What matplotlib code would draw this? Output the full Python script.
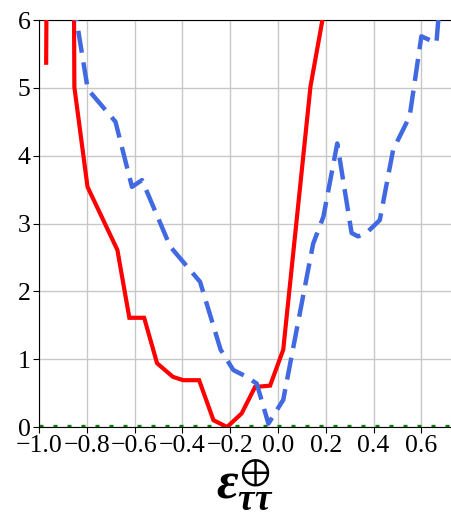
import matplotlib.pyplot as plt

plt.rcParams['font.family'] = ['Liberation Serif', 'DejaVu Serif']
plt.rcParams['mathtext.fontset'] = 'custom'
plt.rcParams['mathtext.it'] = 'Liberation Serif:italic:bold'
plt.rcParams['mathtext.rm'] = 'Liberation Serif'
plt.rcParams['mathtext.fallback'] = 'stix'

# кривая 1 (сплошная красная)
x_red = [-0.970, -0.966, -0.856, -0.852, -0.797, -0.672, -0.622, -0.560, -0.506,
         -0.440, -0.397, -0.330, -0.270, -0.213, -0.152, -0.096, -0.033, 0.022,
         0.136, 0.186, 0.21]
y_red = [5.37, 8.0, 8.0, 5.01, 3.54, 2.61, 1.61, 1.61, 0.94,
         0.74, 0.69, 0.69, 0.10, 0.00, 0.20, 0.59, 0.61, 1.14,
         5.02, 6.00, 6.45]

# кривая 2 (синий пунктир)
x_blue = [-0.855, -0.843, -0.796, -0.680, -0.611, -0.569, -0.451, -0.326, -0.240,
          -0.187, -0.131, -0.089, -0.040, 0.022, 0.147, 0.190, 0.248, 0.308,
          0.335, 0.370, 0.426, 0.482, 0.516, 0.551, 0.600, 0.663, 0.680]
y_blue = [6.50, 6.00, 4.98, 4.50, 3.54, 3.64, 2.66, 2.14, 1.14,
          0.84, 0.74, 0.64, 0.05, 0.40, 2.70, 3.10, 4.18, 2.86,
          2.81, 2.86, 3.05, 4.09, 4.33, 4.58, 5.76, 5.66, 6.40]

# уровень отсчёта (зелёный пунктир)
x_ref = [-1.0, 0.75]
y_ref = [0.02, 0.02]

fig = plt.figure(figsize=(4.51, 5.14), dpi=100)
ax = fig.add_axes([39 / 451, 87 / 514, 1 - 39 / 451, 407 / 514])

ax.plot(x_red, y_red, color='red', linewidth=3.0, solid_joinstyle='miter', zorder=3)
ax.plot(x_blue, y_blue, color='royalblue', linewidth=3.2, dashes=(5, 2.2), zorder=3)
ax.plot(x_ref, y_ref, color='green', linewidth=2.4, linestyle=(0, (1.2, 3.0)), zorder=2)

ax.set_xlim(-1.0, 0.724)
ax.set_ylim(0, 6)
ax.set_xticks([-1.0, -0.8, -0.6, -0.4, -0.2, 0.0, 0.2, 0.4, 0.6])
ax.set_yticks([0, 1, 2, 3, 4, 5, 6])
ax.tick_params(labelsize=18.5, direction='out', length=4, pad=2)
ax.grid(True, color='#c8c8c8', linewidth=1.0)
ax.set_axisbelow(True)
ax.spines['right'].set_visible(False)

ax.set_xlabel(r'$\varepsilon_{\tau\tau}^{\oplus}$', fontsize=38, labelpad=0)

fig.savefig('out.png', dpi=100)
